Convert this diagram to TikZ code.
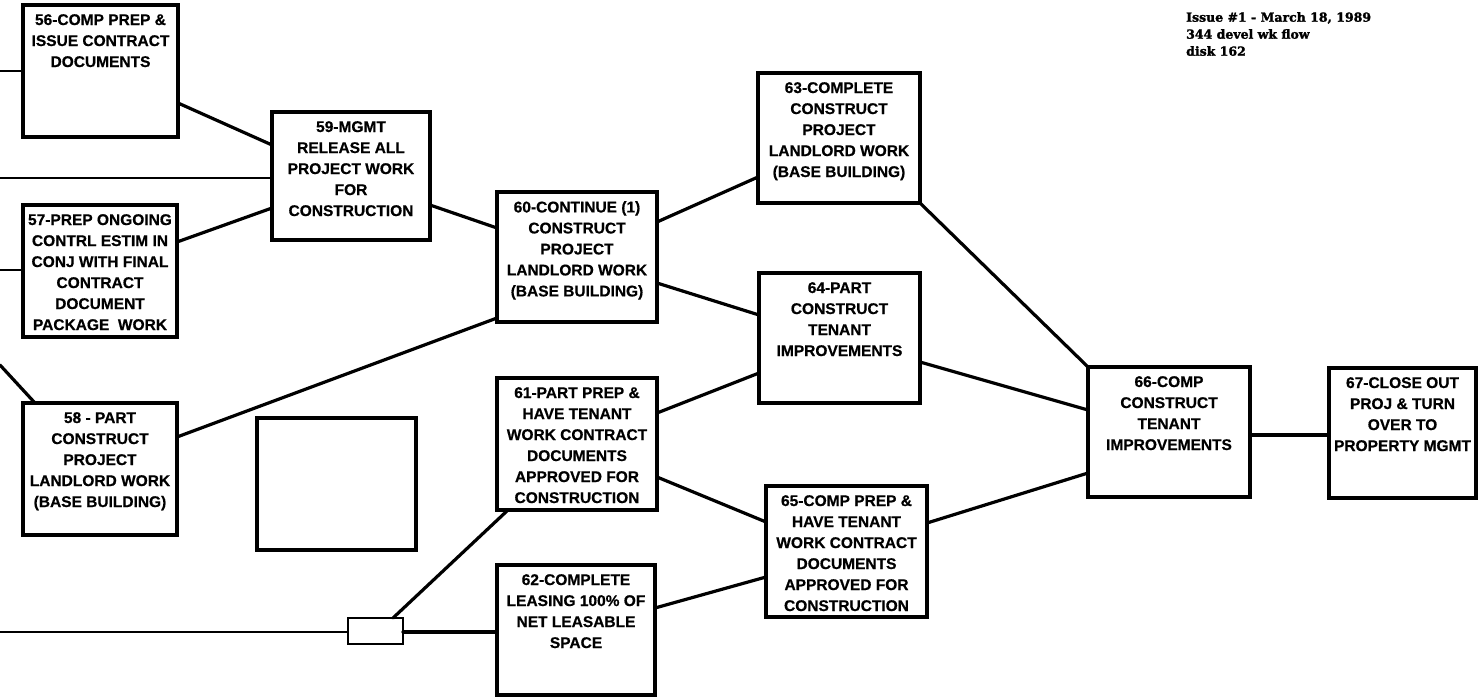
\documentclass[tikz,border=0pt]{standalone}
\usepackage{fontspec}
\setmainfont[BoldFeatures={FakeBold=0.6}]{Liberation Sans}
\newfontfamily\hdrfont[BoldFeatures={FakeBold=1.8}]{DejaVu Serif}
\usetikzlibrary{calc}
\tikzset{
  taskbox/.style={draw, line width=3.3pt, inner sep=0pt, outer sep=0pt, fill=white},
  boxtext/.style={font=\bfseries\fontsize{15.5}{21}\selectfont, align=center, inner sep=0pt},
  conn/.style={line width=3.2pt, line cap=round},
  thinconn/.style={line width=2.5pt},
  hdr/.style={font=\hdrfont\bfseries\fontsize{12.5}{17}\selectfont, align=left, inner sep=0pt}
}
\newcommand\mkbox[6]{%
  \node[taskbox, minimum width={#4-#2}, minimum height={#5-#3}] (#1) at ({(#2+#4)/2},{(#3+#5)/2}) {};
  \node[boxtext, anchor=north] (#1t) at ([yshift=-9pt]#1.north) {#6};
}
\begin{document}
\begin{tikzpicture}[x=1pt,y=-1pt]
\useasboundingbox (0,0) rectangle (1479,698);

\coordinate (l56) at (0,71);
\coordinate (l59) at (0,178);
\coordinate (l57) at (0,270);
\coordinate (l58) at (0,365);
\coordinate (lsm) at (0,632);

% connectors (boxes drawn on top)
\path (0,0) coordinate (origin);

\mkbox{b56}{23}{5}{178}{137}{56-COMP PREP \&\\ISSUE CONTRACT\\DOCUMENTS}
\mkbox{b57}{23}{205}{177}{337}{57-PREP ONGOING\\CONTRL ESTIM IN\\CONJ WITH FINAL\\CONTRACT\\DOCUMENT\\PACKAGE\ \ WORK}
\mkbox{b58}{23}{403}{177}{535}{58 - PART\\CONSTRUCT\\PROJECT\\LANDLORD WORK\\(BASE BUILDING)}
\mkbox{b59}{272}{112}{430}{240}{59-MGMT\\RELEASE ALL\\PROJECT WORK\\FOR\\CONSTRUCTION}
\mkbox{b60}{497}{192}{657}{322}{60-CONTINUE (1)\\CONSTRUCT\\PROJECT\\LANDLORD WORK\\(BASE BUILDING)}
\mkbox{b63}{758}{73}{920}{203}{63-COMPLETE\\CONSTRUCT\\PROJECT\\LANDLORD WORK\\(BASE BUILDING)}
\mkbox{b64}{759}{273}{920}{403}{64-PART\\CONSTRUCT\\TENANT\\IMPROVEMENTS}
\mkbox{b61}{497}{378}{657}{510}{61-PART PREP \&\\HAVE TENANT\\WORK CONTRACT\\DOCUMENTS\\APPROVED FOR\\CONSTRUCTION}
\mkbox{b62}{497}{565}{655}{695}{62-COMPLETE\\LEASING 100\% OF\\NET LEASABLE\\SPACE}
\mkbox{b65}{766}{486}{927}{617}{65-COMP PREP \&\\HAVE TENANT\\WORK CONTRACT\\DOCUMENTS\\APPROVED FOR\\CONSTRUCTION}
\mkbox{b66}{1088}{367}{1250}{497}{66-COMP\\CONSTRUCT\\TENANT\\IMPROVEMENTS}
\mkbox{b67}{1329}{368}{1476}{498}{67-CLOSE OUT\\PROJ \& TURN\\OVER TO\\PROPERTY MGMT}

\node[taskbox, minimum width=159, minimum height=132] (empty) at (336.5,484) {};
\node[taskbox, line width=2.6pt, minimum width=55, minimum height=26] (sm) at (375.5,631) {};

\node[hdr, anchor=north west] (hdr) at (1186,12) {Issue \#1 - March 18, 1989\\344 devel wk flow\\disk 162};

\draw[thinconn] (l56) -- (b56.west |- l56);
\draw[conn] (b56.east |- 0,103) -- (b59.west |- 0,145);
\draw[thinconn] (l59) -- (b59.west |- l59);
\draw[conn] (b57.east |- 0,242) -- (b59.west |- 0,208);
\draw[thinconn] (l57) -- (b57.west |- l57);
\draw[conn] (l58) -- (b58.north -| 35,0);
\draw[conn] (b58.east |- 0,437) -- (b60.west |- 0,318);
\draw[conn] (b59.east |- 0,205) -- (b60.west |- 0,228);
\draw[conn] (b60.east |- 0,222) -- (b63.west |- 0,177);
\draw[conn] (b60.east |- 0,283) -- (b64.west |- 0,315);
\draw[conn] (b63.south east) -- (b66.north west);
\draw[conn] (b64.east |- 0,362) -- (b66.west |- 0,410);
\draw[conn] (b61.east |- 0,413) -- (b64.west |- 0,373);
\draw[conn] (b61.east |- 0,477) -- (b65.west |- 0,522);
\draw[conn] (b62.east |- 0,608) -- (b65.west |- 0,577);
\draw[conn] (b65.east |- 0,523) -- (b66.west |- 0,473);
\draw[conn] (b66.east |- 0,435) -- (b67.west |- 0,435);
\draw[thinconn] (lsm) -- (sm.west |- lsm);
\draw[conn] (sm.east |- 0,632) -- (b62.west |- 0,632);
\draw[conn] (sm.north -| 393,0) -- (b61.south -| 508,0);
\end{tikzpicture}
\end{document}
